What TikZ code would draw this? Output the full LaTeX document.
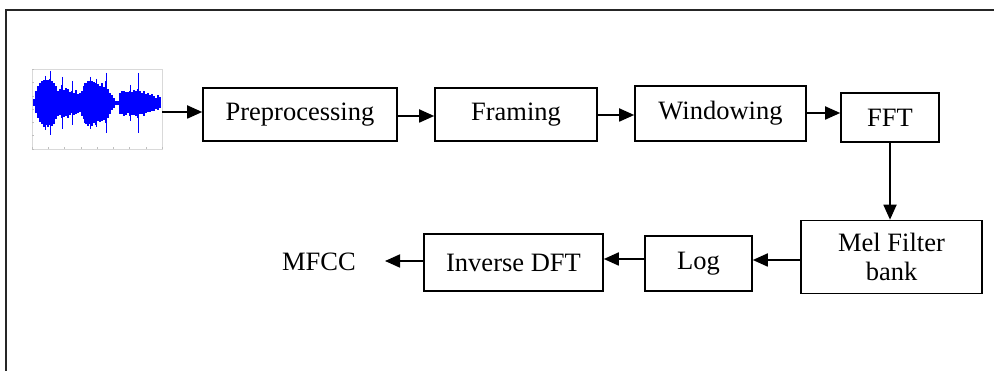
\documentclass[tikz,border=0pt]{standalone}
\usepackage{fontspec}
\setmainfont{Liberation Serif}
\usetikzlibrary{arrows.meta,calc}
\begin{document}
\begin{tikzpicture}[x=1pt,y=-1pt,
  box/.style={draw,line width=1.6pt,inner sep=0pt,font=\fontsize{26.5}{29}\selectfont,align=center},
  arr/.style={line width=1.8pt,-{Triangle[length=15pt,width=13pt]}},
  frameline/.style={line width=2pt,draw=black!85}]
\useasboundingbox (0,0) rectangle (994,371);
% outer frame (top and left edges visible)
\draw[frameline] (6,371) -- (6,10.5) -- (994,10.5);
% waveform
\node[draw=black!15,line width=0.4pt,minimum width=130pt,minimum height=80pt,inner sep=0pt] (wave) at (97,109) {};
\foreach \t in {0,1,...,8}{\draw[black!25,line width=0.3pt] ($(32,149)+(\t*16.25,0)$) -- ++(0,-2);}
\foreach \t in {0,1,...,6}{\draw[black!25,line width=0.3pt] ($(32,69)+(0,\t*13.33)$) -- ++(2,0);}
\foreach \x/\a/\b in {34/4/3,36/12/10,38/17/15,40/20/19,42/22/21,44/23/24,46/23/22,48/23/24,50/24/22,52/22/23,54/20/21,56/17/16,58/12/13,60/14/12,62/18/15,64/13/14,66/15/13,68/14/15,70/11/12,72/12/10,74/10/12,76/13/11,78/9/10,80/10/9,82/12/13,84/17/16,86/20/21,88/22/23,90/22/21,92/22/23,94/21/20,96/20/22,98/19/18,100/17/19,102/20/18,104/16/17,106/22/20,108/14/15,110/10/11,112/8/7,114/5/5,116/2/2,118/2/2,120/10/11,122/12/11,124/12/13,126/11/12,128/11/10,130/12/13,132/11/12,134/13/12,136/12/13,138/14/15,140/12/11,142/10/11,144/12/13,146/9/10,148/10/9,150/8/9,152/9/8,154/7/8,156/5/6,158/8/7,160/6/5}{
  \fill[blue] (\x-1.2,103-\a) rectangle (\x+1.2,103+\b);
}
\foreach \x/\a in {50/32,62/26,72/22,96/24,106/30,138/30,130/18,84/20,45/27,90/26}{
  \draw[blue,line width=0.8pt] (\x,103-\a) -- (\x,103+\a);
}
% boxes
\node[box,minimum width=194pt,minimum height=53pt] (pre) at (300,114.5) {Preprocessing};
\node[box,minimum width=162pt,minimum height=53pt] (fram) at (516,114.5) {Framing};
\node[box,minimum width=171pt,minimum height=55pt] (win) at (720.5,113.5) {Windowing};
\node[box,minimum width=98pt,minimum height=49pt] (fft) at (890,117.5) {FFT};
\node[box,minimum width=181pt,minimum height=73pt] (mel) at (891.5,257) {Mel Filter\\bank};
\node[box,minimum width=107pt,minimum height=55pt] (log) at (698.5,263.5) {Log};
\node[box,minimum width=179pt,minimum height=57pt] (idft) at (513.5,262.5) {Inverse DFT};
\node[font=\fontsize{26.5}{29}\selectfont,inner sep=0pt] (mfcc) at (319,262) {MFCC};
\coordinate (mfccend) at (385,261);
% arrows
\draw[arr] (wave.east|-0,112) -- (pre.west|-0,112);
\draw[arr] (pre.east|-0,116) -- (fram.west|-0,116);
\draw[arr] (fram.east|-0,115) -- (win.west|-0,115);
\draw[arr] (win.east|-0,113) -- (fft.west|-0,113);
\draw[arr] (fft.south) -- (mel.north-|fft.south);
\draw[arr] (mel.west|-0,260) -- (log.east|-0,260);
\draw[arr] (log.west|-0,259) -- (idft.east|-0,259);
\draw[arr] (idft.west|-0,261) -- (mfccend);
\end{tikzpicture}
\end{document}
